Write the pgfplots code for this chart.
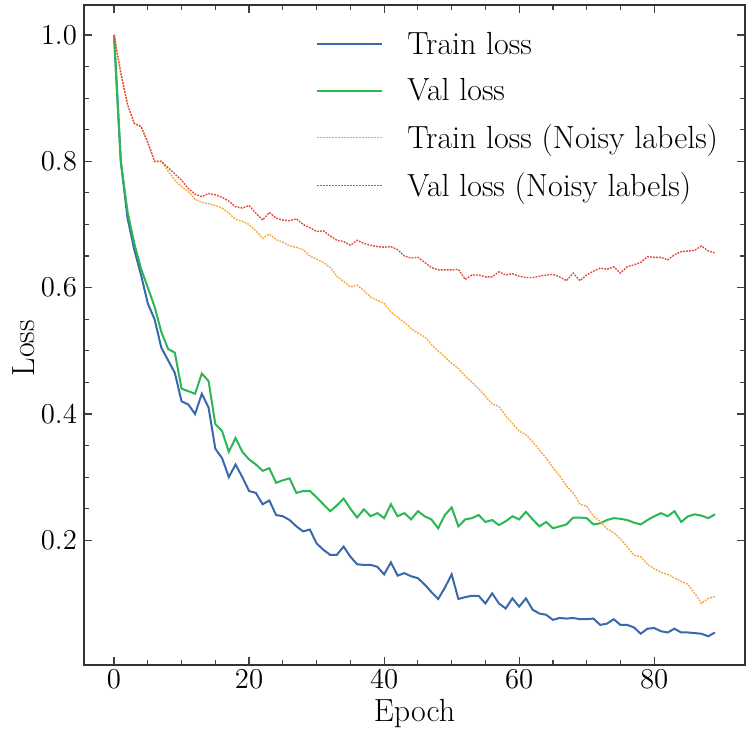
\documentclass[border=0pt]{standalone}
\usepackage{pgfplots}
\usepackage{pgfplotstable}
\pgfplotsset{compat=1.18}
\definecolor{cblue}{RGB}{58,104,172}
\definecolor{cgreen}{RGB}{44,182,84}
\definecolor{corange}{RGB}{245,166,60}
\definecolor{cred}{RGB}{228,72,60}
\pgfplotstableread{
e train val trainn valn
0 1.000 1.000 1.000 1.000
1 0.800 0.800 0.940 0.940
2 0.710 0.720 0.890 0.890
3 0.660 0.670 0.860 0.860
4 0.620 0.630 0.855 0.855
5 0.575 0.600 0.830 0.830
6 0.550 0.570 0.800 0.800
7 0.505 0.530 0.800 0.800
8 0.485 0.503 0.785 0.790
9 0.465 0.497 0.770 0.780
10 0.420 0.440 0.760 0.770
11 0.415 0.436 0.752 0.757
12 0.400 0.432 0.740 0.748
13 0.432 0.464 0.735 0.744
14 0.410 0.452 0.733 0.749
15 0.345 0.384 0.730 0.747
16 0.330 0.373 0.726 0.743
17 0.300 0.340 0.718 0.737
18 0.320 0.362 0.708 0.728
19 0.300 0.340 0.705 0.726
20 0.278 0.328 0.700 0.730
21 0.275 0.320 0.690 0.718
22 0.257 0.310 0.678 0.707
23 0.263 0.314 0.685 0.719
24 0.240 0.291 0.676 0.710
25 0.238 0.295 0.672 0.707
26 0.232 0.298 0.666 0.706
27 0.222 0.275 0.664 0.709
28 0.214 0.278 0.660 0.700
29 0.217 0.278 0.650 0.695
30 0.195 0.268 0.645 0.689
31 0.185 0.257 0.640 0.690
32 0.177 0.246 0.632 0.682
33 0.177 0.255 0.618 0.675
34 0.190 0.266 0.610 0.673
35 0.174 0.250 0.601 0.667
36 0.162 0.236 0.604 0.675
37 0.161 0.249 0.595 0.670
38 0.161 0.238 0.585 0.667
39 0.158 0.243 0.580 0.665
40 0.146 0.235 0.575 0.664
41 0.165 0.257 0.562 0.665
42 0.144 0.238 0.553 0.660
43 0.148 0.243 0.545 0.650
44 0.143 0.233 0.535 0.647
45 0.140 0.246 0.528 0.648
46 0.130 0.238 0.522 0.640
47 0.118 0.233 0.510 0.632
48 0.107 0.219 0.500 0.628
49 0.125 0.240 0.490 0.628
50 0.146 0.252 0.480 0.628
51 0.107 0.222 0.472 0.629
52 0.110 0.233 0.460 0.613
53 0.112 0.235 0.450 0.620
54 0.112 0.240 0.440 0.620
55 0.100 0.229 0.428 0.617
56 0.116 0.232 0.416 0.617
57 0.100 0.224 0.412 0.625
58 0.092 0.230 0.397 0.620
59 0.108 0.238 0.385 0.622
60 0.095 0.233 0.373 0.618
61 0.108 0.245 0.367 0.616
62 0.090 0.233 0.356 0.616
63 0.084 0.222 0.343 0.618
64 0.082 0.229 0.330 0.620
65 0.074 0.219 0.315 0.621
66 0.077 0.222 0.302 0.617
67 0.076 0.225 0.286 0.611
68 0.077 0.236 0.275 0.623
69 0.075 0.236 0.257 0.611
70 0.075 0.235 0.254 0.620
71 0.076 0.225 0.238 0.626
72 0.066 0.227 0.230 0.631
73 0.068 0.232 0.218 0.629
74 0.075 0.235 0.212 0.633
75 0.066 0.234 0.202 0.623
76 0.066 0.232 0.190 0.633
77 0.062 0.228 0.176 0.636
78 0.052 0.225 0.174 0.640
79 0.060 0.232 0.162 0.649
80 0.061 0.238 0.155 0.648
81 0.056 0.243 0.149 0.648
82 0.054 0.238 0.146 0.644
83 0.060 0.246 0.140 0.652
84 0.054 0.229 0.135 0.657
85 0.054 0.238 0.130 0.658
86 0.053 0.241 0.116 0.659
87 0.052 0.239 0.100 0.666
88 0.048 0.235 0.108 0.658
89 0.054 0.241 0.111 0.655
}\losstable
\begin{document}
\begin{tikzpicture}
\begin{axis}[
  scale only axis,
  width=330.5pt, height=330pt,
  xmin=-4.45, xmax=93.45, ymin=0.0025, ymax=1.0475,
  xtick={0,20,40,60,80},
  ytick={0.2,0.4,0.6,0.8,1.0},
  minor x tick num=3, minor y tick num=3,
  tick align=inside,
  xtick pos=both, ytick pos=both,
  major tick length=4pt, minor tick length=2.5pt,
  tick style={black!75, line width=0.6pt},
  axis line style={black!80, line width=0.8pt},
  font=\fontsize{15}{18}\selectfont,
  yticklabel style={/pgf/number format/.cd, fixed, fixed zerofill, precision=1},
  xticklabel style={yshift=1pt},
  xlabel={Epoch}, ylabel={Loss},
  xlabel style={at={(axis description cs:0.5,0)}, anchor=base, yshift=-28pt, font=\fontsize{16}{19}\selectfont},
  ylabel style={at={(axis description cs:-0.091,0.48)}, anchor=center, font=\fontsize{16}{19}\selectfont},
  legend cell align=left,
  legend style={draw=none, fill=none, at={(0.975,0.972)}, anchor=north east,
    row sep=6.5pt, font=\fontsize{16}{19}\selectfont,
    /tikz/every odd column/.append style={column sep=10pt}},
  legend image code/.code={\draw[#1] (0cm,0cm) -- (1.14cm,0cm);},
]
\addplot[cblue, line width=1pt] table[x=e, y=train] {\losstable};
\addlegendentry{Train loss}
\addplot[cgreen, line width=1pt] table[x=e, y=val] {\losstable};
\addlegendentry{Val loss}
\addplot[corange, line width=0.7pt, dash pattern=on 0.9pt off 0.6pt] table[x=e, y=trainn] {\losstable};
\addlegendentry{Train loss (Noisy labels)}
\addplot[cred, line width=0.7pt, dash pattern=on 0.9pt off 0.6pt] table[x=e, y=valn] {\losstable};
\addlegendentry{Val loss (Noisy labels)}
\end{axis}
\pgfresetboundingbox
\path (-42pt,-31.5pt) rectangle (332.5pt,332.5pt);
\end{tikzpicture}
\end{document}
